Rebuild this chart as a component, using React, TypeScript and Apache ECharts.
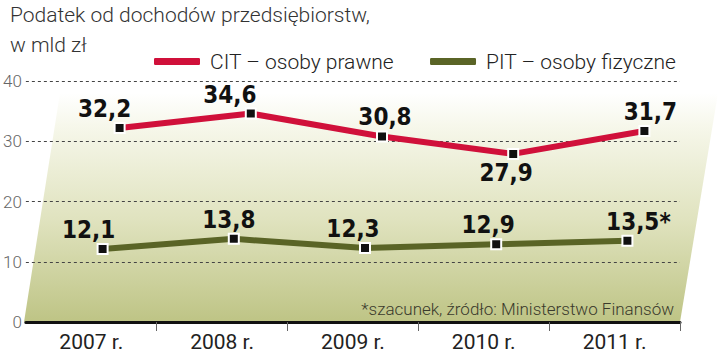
import React, { useEffect, useRef } from "react";
import * as echarts from "echarts";

const categories = ["2007 r.", "2008 r.", "2009 r.", "2010 r.", "2011 r."];
const citValues = [32.2, 34.6, 30.8, 27.9, 31.7];
const pitValues = [12.1, 13.8, 12.3, 12.9, 13.5];
const pitSuffix = ["", "", "", "", "*"];
const seriesNames = ["CIT – osoby prawne", "PIT – osoby fizyczne"];
const yMin = 0;
const yMax = 40;
const yStep = 10;
const titleText = "Podatek od dochodów przedsiębiorstw,\nw mld zł";
const footnote = "*szacunek, źródło: Ministerstwo Finansów";

// label styling (offsets in px, not data)
const citLabelOffsets = [[-15, 0], [-21, 0], [3, 0], [-7, 0], [6, 0]];
const citLabelBelow = [false, false, false, true, false];
const pitLabelOffsets = [[-14, 0], [-5, 0], [-12, 0], [-8, 0], [11, 0]];

const RED = "#d0103a";
const OLIVE = "#5a6426";
const fmt = (v: number) => v.toFixed(1).replace(".", ",");

export default function App() {
  const ref = useRef<HTMLDivElement>(null);
  useEffect(() => {
    document.body.style.margin = "0";
    const chart = echarts.init(ref.current!, null, { renderer: "svg" });
    const labelFont = {
      fontFamily: "'Liberation Sans Narrow', 'DejaVu Sans Condensed', 'DejaVu Sans', sans-serif",
      fontWeight: "bold" as const,
      fontSize: 24,
      color: "#111",
    };
    const hiddenX = (gi: number) => ({
      type: "category" as const,
      gridIndex: gi,
      data: categories,
      show: false,
      boundaryGap: true,
    });
    const hiddenY = (gi: number) => ({
      type: "value" as const,
      gridIndex: gi,
      min: yMin,
      max: yMax,
      interval: yStep,
      show: false,
    });
    chart.setOption({
      animation: false,
      backgroundColor: "#ffffff",
      title: {
        text: titleText,
        left: 5,
        top: -5,
        textStyle: {
          fontFamily: "Roboto, sans-serif",
          fontWeight: 300,
          fontSize: 21,
          lineHeight: 30,
          color: "#333",
        },
      },
      legend: {
        left: 152,
        top: 51,
        padding: 0,
        icon: "roundRect",
        itemWidth: 48,
        itemHeight: 9,
        itemGap: 34,
        textStyle: {
          fontFamily: "Roboto, sans-serif",
          fontWeight: 300,
          fontSize: 21,
          color: "#222",
          padding: [0, 0, 0, 4],
        },
        data: [
          { name: seriesNames[0], itemStyle: { color: RED } },
          { name: seriesNames[1], itemStyle: { color: OLIVE } },
        ],
      },
      graphic: [
        {
          type: "polygon",
          z: -10,
          silent: true,
          shape: {
            points: [
              [60, 93],
              [718, 93],
              [680, 322],
              [24, 322],
            ],
          },
          style: {
            fill: new echarts.graphic.LinearGradient(0, 0, 0, 1, [
              { offset: 0, color: "#ffffff" },
              { offset: 0.15, color: "#f6f7ea" },
              { offset: 0.55, color: "#e0e3bf" },
              { offset: 1, color: "#bec485" },
            ]),
          },
        },
        {
          type: "text",
          right: 720 - 674,
          top: 300,
          z: 10,
          style: {
            text: footnote,
            fontFamily: "Roboto, sans-serif",
            fontWeight: 300,
            fontSize: 17,
            fill: "#3a3a2c",
          },
        },
      ],
      grid: [
        { left: 24, right: 40, top: 81, bottom: 32 },
        { left: 37, right: 27, top: 81, bottom: 32 },
        { left: 54, right: 10, top: 81, bottom: 32 },
      ],
      xAxis: [
        {
          type: "category",
          gridIndex: 0,
          data: categories,
          boundaryGap: true,
          axisLine: { show: true, lineStyle: { color: "#111", width: 3 } },
          axisTick: {
            show: true,
            length: 9,
            interval: (i: number) => i > 0 && i < categories.length,
            lineStyle: { color: "#666", width: 1 },
          },
          axisLabel: {
            fontFamily: "Roboto, sans-serif",
            fontSize: 21,
            color: "#222",
            margin: 9,
          },
        },
        hiddenX(1),
        hiddenX(2),
      ],
      yAxis: [
        {
          type: "value",
          gridIndex: 0,
          min: yMin,
          max: yMax,
          interval: yStep,
          axisLine: { show: false },
          axisTick: { show: false },
          axisLabel: {
            fontFamily: "Roboto, sans-serif",
            fontWeight: 300,
            fontSize: 17,
            color: "#666",
            margin: 4,
          },
          splitLine: {
            show: true,
            lineStyle: { color: "#444", width: 1, type: [3, 3] },
          },
        },
        hiddenY(1),
        hiddenY(2),
      ],
      series: [
        {
          name: seriesNames[0],
          type: "line",
          xAxisIndex: 2,
          yAxisIndex: 2,
          z: 5,
          symbol: "rect",
          symbolSize: 10,
          color: RED,
          lineStyle: { color: RED, width: 6 },
          itemStyle: { color: "#111", borderColor: "#fff", borderWidth: 2 },
          data: citValues.map((v, i) => ({
            value: v,
            label: {
              show: true,
              position: citLabelBelow[i] ? "bottom" : "top",
              distance: 1,
              offset: citLabelOffsets[i],
              formatter: () => fmt(v),
              ...labelFont,
            },
          })),
        },
        {
          name: seriesNames[1],
          type: "line",
          xAxisIndex: 1,
          yAxisIndex: 1,
          z: 5,
          symbol: "rect",
          symbolSize: 10,
          color: OLIVE,
          lineStyle: { color: OLIVE, width: 6 },
          itemStyle: { color: "#111", borderColor: "#fff", borderWidth: 2 },
          data: pitValues.map((v, i) => ({
            value: v,
            label: {
              show: true,
              position: "top",
              distance: 1,
              offset: pitLabelOffsets[i],
              formatter: () => fmt(v) + pitSuffix[i],
              ...labelFont,
            },
          })),
        },
      ],
    });
    return () => chart.dispose();
  }, []);
  return <div ref={ref} style={{ width: 720, height: 354 }} />;
}
